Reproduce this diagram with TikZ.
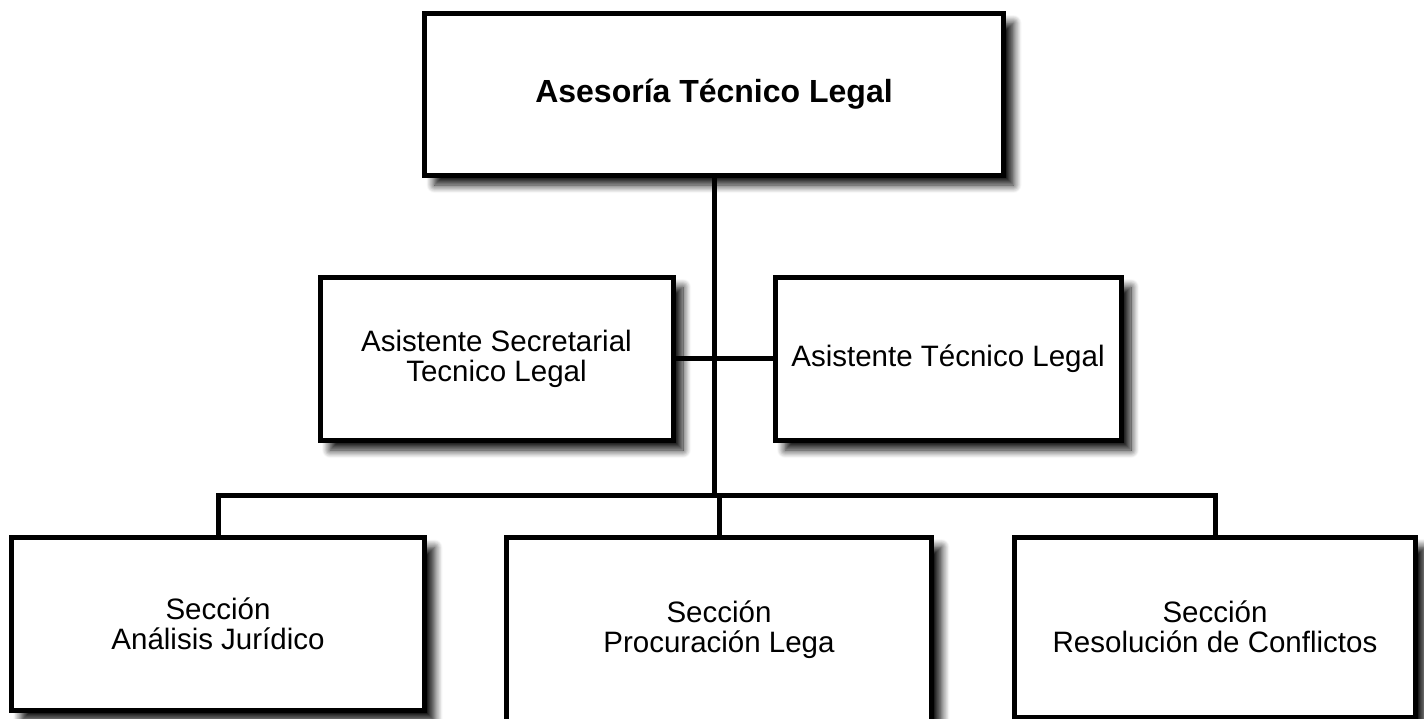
\documentclass[tikz,border=0pt]{standalone}
\usepackage{fontspec}
\setmainfont{Liberation Sans}
\usetikzlibrary{positioning, shadows, shadows.blur, calc}

\begin{document}
\begin{tikzpicture}[x=1pt, y=-1pt,
	unit/.style = {draw, line width=5pt, fill=white, align=center, inner sep=0pt, outer sep=0pt,
		font=\fontsize{29.5}{30}\selectfont,
		blur shadow={shadow xshift=10pt, shadow yshift=-10pt, shadow blur radius=8pt, shadow blur steps=10, shadow opacity=95}},
	link/.style = {line width=5pt, line join=miter}]
	\useasboundingbox (0,0) rectangle (1424,718);
	\node[unit, minimum width=579pt, minimum height=162pt, font=\fontsize{32}{34}\selectfont\bfseries] at (714,94) (ase) {Asesoría Técnico Legal};
	\node[unit, minimum width=353pt, minimum height=163pt] at (496.5,358.5) (sec) {Asistente Secretarial\\Tecnico Legal};
	\node[unit, minimum width=346pt, minimum height=163pt] at (948,358.5) (tec) {Asistente Técnico Legal};
	\node[unit, minimum width=413pt, minimum height=173pt] at (218,624) (ana) {Sección\\Análisis Jurídico};
	\node[unit, minimum width=425pt, minimum height=189pt, text depth=9pt] at (719,631.5) (pro) {Sección\\Procuración Lega};
	\node[unit, minimum width=401pt, minimum height=180pt] at (1215,627) (res) {Sección\\Resolución de Conflictos};
	\coordinate (bus) at (714,495);
	\draw[link] (ase.south) -- (ase.south |- bus);
	\draw[link] (sec.east) -- (tec.west);
	\draw[link] (ana.north) -- (ana.north |- bus) -- (res.north |- bus) -- (res.north);
	\draw[link] (pro.north) -- (pro.north |- bus);
\end{tikzpicture}
\end{document}
